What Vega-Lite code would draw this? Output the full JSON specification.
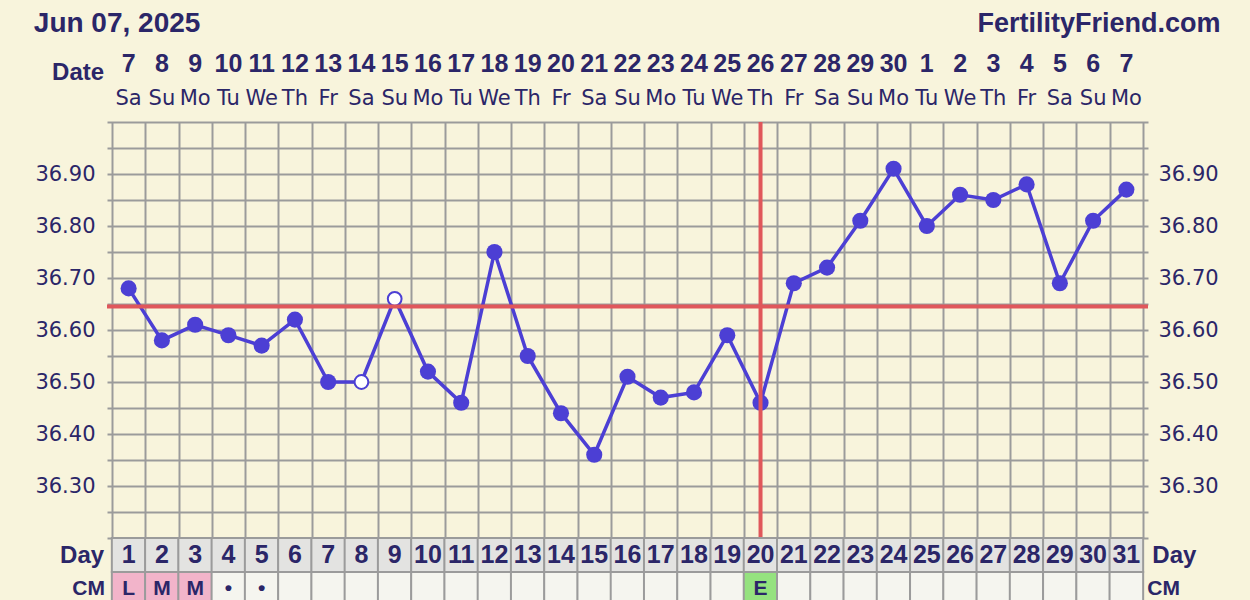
{
  "$schema": "https://vega.github.io/schema/vega-lite/v6.json",
  "width": 1041,
  "height": 416,
  "autosize": {"type": "none"},
  "padding": {"left": 107, "top": 122, "right": 102, "bottom": 62},
  "background": "#f8f4dc",
  "config": {"view": {"stroke": null}},
  "data": {"values": [
    {"day": 1, "date": "7", "wd": "Sa", "temp": 36.68, "open": false, "cm": "L"},
    {"day": 2, "date": "8", "wd": "Su", "temp": 36.58, "open": false, "cm": "M"},
    {"day": 3, "date": "9", "wd": "Mo", "temp": 36.61, "open": false, "cm": "M"},
    {"day": 4, "date": "10", "wd": "Tu", "temp": 36.59, "open": false, "cm": "•"},
    {"day": 5, "date": "11", "wd": "We", "temp": 36.57, "open": false, "cm": "•"},
    {"day": 6, "date": "12", "wd": "Th", "temp": 36.62, "open": false, "cm": ""},
    {"day": 7, "date": "13", "wd": "Fr", "temp": 36.50, "open": false, "cm": ""},
    {"day": 8, "date": "14", "wd": "Sa", "temp": 36.50, "open": true, "cm": ""},
    {"day": 9, "date": "15", "wd": "Su", "temp": 36.66, "open": true, "cm": ""},
    {"day": 10, "date": "16", "wd": "Mo", "temp": 36.52, "open": false, "cm": ""},
    {"day": 11, "date": "17", "wd": "Tu", "temp": 36.46, "open": false, "cm": ""},
    {"day": 12, "date": "18", "wd": "We", "temp": 36.75, "open": false, "cm": ""},
    {"day": 13, "date": "19", "wd": "Th", "temp": 36.55, "open": false, "cm": ""},
    {"day": 14, "date": "20", "wd": "Fr", "temp": 36.44, "open": false, "cm": ""},
    {"day": 15, "date": "21", "wd": "Sa", "temp": 36.36, "open": false, "cm": ""},
    {"day": 16, "date": "22", "wd": "Su", "temp": 36.51, "open": false, "cm": ""},
    {"day": 17, "date": "23", "wd": "Mo", "temp": 36.47, "open": false, "cm": ""},
    {"day": 18, "date": "24", "wd": "Tu", "temp": 36.48, "open": false, "cm": ""},
    {"day": 19, "date": "25", "wd": "We", "temp": 36.59, "open": false, "cm": ""},
    {"day": 20, "date": "26", "wd": "Th", "temp": 36.46, "open": false, "cm": "E"},
    {"day": 21, "date": "27", "wd": "Fr", "temp": 36.69, "open": false, "cm": ""},
    {"day": 22, "date": "28", "wd": "Sa", "temp": 36.72, "open": false, "cm": ""},
    {"day": 23, "date": "29", "wd": "Su", "temp": 36.81, "open": false, "cm": ""},
    {"day": 24, "date": "30", "wd": "Mo", "temp": 36.91, "open": false, "cm": ""},
    {"day": 25, "date": "1", "wd": "Tu", "temp": 36.80, "open": false, "cm": ""},
    {"day": 26, "date": "2", "wd": "We", "temp": 36.86, "open": false, "cm": ""},
    {"day": 27, "date": "3", "wd": "Th", "temp": 36.85, "open": false, "cm": ""},
    {"day": 28, "date": "4", "wd": "Fr", "temp": 36.88, "open": false, "cm": ""},
    {"day": 29, "date": "5", "wd": "Sa", "temp": 36.69, "open": false, "cm": ""},
    {"day": 30, "date": "6", "wd": "Su", "temp": 36.81, "open": false, "cm": ""},
    {"day": 31, "date": "7", "wd": "Mo", "temp": 36.87, "open": false, "cm": ""}
  ]},
  "layer": [
    {
      "mark": {"type": "line", "color": "#4c3fd4", "strokeWidth": 3.5},
      "encoding": {
        "x": {"field": "day", "type": "quantitative",
          "scale": {"domain": [0.5, 31.5], "nice": false, "zero": false},
          "axis": {"orient": "bottom", "values": [0.5,1.5,2.5,3.5,4.5,5.5,6.5,7.5,8.5,9.5,10.5,11.5,12.5,13.5,14.5,15.5,16.5,17.5,18.5,19.5,20.5,21.5,22.5,23.5,24.5,25.5,26.5,27.5,28.5,29.5,30.5,31.5],
            "grid": true, "gridColor": "#9b9b9b", "gridWidth": 2, "gridOpacity": 1,
            "labels": false, "ticks": false, "domain": false, "title": null}},
        "y": {"field": "temp", "type": "quantitative",
          "scale": {"domain": [36.2, 37.0], "nice": false, "zero": false},
          "axis": {"orient": "left", "values": [36.2,36.25,36.3,36.35,36.4,36.45,36.5,36.55,36.6,36.65,36.7,36.75,36.8,36.85,36.9,36.95,37.0],
            "grid": true, "gridColor": "#9b9b9b", "gridWidth": 2, "gridOpacity": 1,
            "ticks": false, "domain": false, "title": null, "labelOverlap": false, "labelBound": false, "labelFlush": false,
            "labelExpr": "datum.value > 36.21 && datum.value < 36.95 && abs(datum.value*10 - round(datum.value*10)) < 0.01 ? format(datum.value, '.2f') : ''",
            "labelFont": "DejaVu Sans", "labelFontSize": 21, "labelColor": "#2b2668", "labelPadding": 12}}
      }
    },
    {
      "transform": [{"filter": {"field": "open", "equal": false}}],
      "mark": {"type": "circle", "color": "#4c3fd4", "size": 260, "opacity": 1},
      "encoding": {
        "x": {"field": "day", "type": "quantitative", "scale": {"domain": [0.5, 31.5], "nice": false, "zero": false}, "axis": null},
        "y": {"field": "temp", "type": "quantitative",
          "scale": {"domain": [36.2, 37.0], "nice": false, "zero": false},
          "axis": {"orient": "right", "values": [36.2,36.25,36.3,36.35,36.4,36.45,36.5,36.55,36.6,36.65,36.7,36.75,36.8,36.85,36.9,36.95,37.0],
            "grid": false, "ticks": false, "domain": false, "title": null, "labelOverlap": false, "labelBound": false, "labelFlush": false,
            "labelExpr": "datum.value > 36.21 && datum.value < 36.95 && abs(datum.value*10 - round(datum.value*10)) < 0.01 ? format(datum.value, '.2f') : ''",
            "labelFont": "DejaVu Sans", "labelFontSize": 21, "labelColor": "#2b2668", "labelPadding": 10}}
      }
    },
    {
      "transform": [{"filter": {"field": "open", "equal": true}}],
      "mark": {"type": "point", "shape": "circle", "filled": false, "fill": "#ffffff", "stroke": "#4c3fd4", "strokeWidth": 2, "size": 190, "opacity": 1, "fillOpacity": 1},
      "encoding": {
        "x": {"field": "day", "type": "quantitative", "scale": {"domain": [0.5, 31.5], "nice": false, "zero": false}, "axis": null},
        "y": {"field": "temp", "type": "quantitative", "scale": {"domain": [36.2, 37.0], "nice": false, "zero": false}, "axis": null}
      }
    },
    {
      "data": {"values": [{"coverline": 36.645}]},
      "mark": {"type": "rule", "color": "#e0575b", "strokeWidth": 4},
      "encoding": {
        "y": {"field": "coverline", "type": "quantitative", "scale": {"domain": [36.2, 37.0], "nice": false, "zero": false}, "axis": null}
      }
    },
    {
      "data": {"values": [{"ovulation": 20}]},
      "mark": {"type": "rule", "color": "#e0575b", "strokeWidth": 4},
      "encoding": {
        "x": {"field": "ovulation", "type": "quantitative", "scale": {"domain": [0.5, 31.5], "nice": false, "zero": false}, "axis": null}
      }
    },
    {
      "mark": {"type": "bar", "width": 33.58, "fill": "#e3e3e1", "stroke": "#9b9b9b", "strokeWidth": 2},
      "encoding": {
        "x": {"field": "day", "type": "quantitative", "scale": {"domain": [0.5, 31.5], "nice": false, "zero": false}, "axis": null},
        "y": {"datum": 36.2, "type": "quantitative", "scale": {"domain": [36.2, 37.0], "nice": false, "zero": false}, "axis": null},
        "y2": {"datum": 36.1346}
      }
    },
    {
      "mark": {"type": "text", "font": "Liberation Sans", "fontWeight": "bold", "fontSize": 25, "fill": "#2b2668", "align": "center", "baseline": "alphabetic"},
      "encoding": {
        "x": {"field": "day", "type": "quantitative", "scale": {"domain": [0.5, 31.5], "nice": false, "zero": false}, "axis": null},
        "y": {"datum": 36.1519, "type": "quantitative", "scale": {"domain": [36.2, 37.0], "nice": false, "zero": false}, "axis": null},
        "text": {"field": "day", "type": "nominal"}
      }
    },
    {
      "mark": {"type": "bar", "width": 33.58, "stroke": "#9b9b9b", "strokeWidth": 2},
      "encoding": {
        "x": {"field": "day", "type": "quantitative", "scale": {"domain": [0.5, 31.5], "nice": false, "zero": false}, "axis": null},
        "y": {"datum": 36.1346, "type": "quantitative", "scale": {"domain": [36.2, 37.0], "nice": false, "zero": false}, "axis": null},
        "y2": {"datum": 36.05},
        "fill": {"field": "cm", "type": "nominal", "legend": null,
          "scale": {"domain": ["L", "M", "E", "•", ""], "range": ["#f2b4ca", "#f2b4ca", "#95e27f", "#f5f5ef", "#f5f5ef"]}}
      }
    },
    {
      "mark": {"type": "text", "font": "Liberation Sans", "fontWeight": "bold", "fontSize": 21, "fill": "#2b2668", "align": "center", "baseline": "alphabetic"},
      "encoding": {
        "x": {"field": "day", "type": "quantitative", "scale": {"domain": [0.5, 31.5], "nice": false, "zero": false}, "axis": null},
        "y": {"datum": 36.0904, "type": "quantitative", "scale": {"domain": [36.2, 37.0], "nice": false, "zero": false}, "axis": null},
        "text": {"field": "cm", "type": "nominal"}
      }
    },
    {
      "mark": {"type": "text", "font": "Liberation Sans", "fontWeight": "bold", "fontSize": 25, "fill": "#2b2668", "align": "center", "baseline": "alphabetic"},
      "encoding": {
        "x": {"field": "day", "type": "quantitative", "scale": {"domain": [0.5, 31.5], "nice": false, "zero": false}, "axis": null},
        "y": {"datum": 37.0962, "type": "quantitative", "scale": {"domain": [36.2, 37.0], "nice": false, "zero": false}, "axis": null},
        "text": {"field": "date", "type": "nominal"}
      }
    },
    {
      "mark": {"type": "text", "font": "DejaVu Sans", "fontSize": 21, "fill": "#2b2668", "align": "center", "baseline": "alphabetic"},
      "encoding": {
        "x": {"field": "day", "type": "quantitative", "scale": {"domain": [0.5, 31.5], "nice": false, "zero": false}, "axis": null},
        "y": {"datum": 37.0327, "type": "quantitative", "scale": {"domain": [36.2, 37.0], "nice": false, "zero": false}, "axis": null},
        "text": {"field": "wd", "type": "nominal"}
      }
    },
    {
      "data": {"values": [{"label": "Date"}]},
      "mark": {"type": "text", "font": "Liberation Sans", "fontWeight": "bold", "fontSize": 24, "fill": "#2b2668", "align": "right", "baseline": "alphabetic"},
      "encoding": {
        "x": {"datum": 0.262, "type": "quantitative", "scale": {"domain": [0.5, 31.5], "nice": false, "zero": false}, "axis": null},
        "y": {"datum": 37.0808, "type": "quantitative", "scale": {"domain": [36.2, 37.0], "nice": false, "zero": false}, "axis": null},
        "text": {"field": "label", "type": "nominal"}
      }
    },
    {
      "data": {"values": [{"label": "Day"}]},
      "mark": {"type": "text", "font": "Liberation Sans", "fontWeight": "bold", "fontSize": 24, "fill": "#2b2668", "align": "right", "baseline": "alphabetic"},
      "encoding": {
        "x": {"datum": 0.262, "type": "quantitative", "scale": {"domain": [0.5, 31.5], "nice": false, "zero": false}, "axis": null},
        "y": {"datum": 36.1519, "type": "quantitative", "scale": {"domain": [36.2, 37.0], "nice": false, "zero": false}, "axis": null},
        "text": {"field": "label", "type": "nominal"}
      }
    },
    {
      "data": {"values": [{"label": "Day"}]},
      "mark": {"type": "text", "font": "Liberation Sans", "fontWeight": "bold", "fontSize": 24, "fill": "#2b2668", "align": "left", "baseline": "alphabetic"},
      "encoding": {
        "x": {"datum": 31.78, "type": "quantitative", "scale": {"domain": [0.5, 31.5], "nice": false, "zero": false}, "axis": null},
        "y": {"datum": 36.1519, "type": "quantitative", "scale": {"domain": [36.2, 37.0], "nice": false, "zero": false}, "axis": null},
        "text": {"field": "label", "type": "nominal"}
      }
    },
    {
      "data": {"values": [{"label": "CM"}]},
      "mark": {"type": "text", "font": "Liberation Sans", "fontWeight": "bold", "fontSize": 21, "fill": "#2b2668", "align": "right", "baseline": "alphabetic"},
      "encoding": {
        "x": {"datum": 0.29, "type": "quantitative", "scale": {"domain": [0.5, 31.5], "nice": false, "zero": false}, "axis": null},
        "y": {"datum": 36.0904, "type": "quantitative", "scale": {"domain": [36.2, 37.0], "nice": false, "zero": false}, "axis": null},
        "text": {"field": "label", "type": "nominal"}
      }
    },
    {
      "data": {"values": [{"label": "CM"}]},
      "mark": {"type": "text", "font": "Liberation Sans", "fontWeight": "bold", "fontSize": 21, "fill": "#2b2668", "align": "left", "baseline": "alphabetic"},
      "encoding": {
        "x": {"datum": 31.63, "type": "quantitative", "scale": {"domain": [0.5, 31.5], "nice": false, "zero": false}, "axis": null},
        "y": {"datum": 36.0904, "type": "quantitative", "scale": {"domain": [36.2, 37.0], "nice": false, "zero": false}, "axis": null},
        "text": {"field": "label", "type": "nominal"}
      }
    },
    {
      "data": {"values": [{"label": "Jun 07, 2025"}]},
      "mark": {"type": "text", "font": "Liberation Sans", "fontWeight": "bold", "fontSize": 28, "fill": "#2b2668", "align": "left", "baseline": "alphabetic"},
      "encoding": {
        "x": {"datum": -1.851, "type": "quantitative", "scale": {"domain": [0.5, 31.5], "nice": false, "zero": false}, "axis": null},
        "y": {"datum": 37.173, "type": "quantitative", "scale": {"domain": [36.2, 37.0], "nice": false, "zero": false}, "axis": null},
        "text": {"field": "label", "type": "nominal"}
      }
    },
    {
      "data": {"values": [{"label": "FertilityFriend.com"}]},
      "mark": {"type": "text", "font": "Liberation Sans", "fontWeight": "bold", "fontSize": 27, "fill": "#2b2668", "align": "right", "baseline": "alphabetic"},
      "encoding": {
        "x": {"datum": 33.833, "type": "quantitative", "scale": {"domain": [0.5, 31.5], "nice": false, "zero": false}, "axis": null},
        "y": {"datum": 37.173, "type": "quantitative", "scale": {"domain": [36.2, 37.0], "nice": false, "zero": false}, "axis": null},
        "text": {"field": "label", "type": "nominal"}
      }
    }
  ],
  "resolve": {"axis": {"x": "independent", "y": "independent"}}
}
